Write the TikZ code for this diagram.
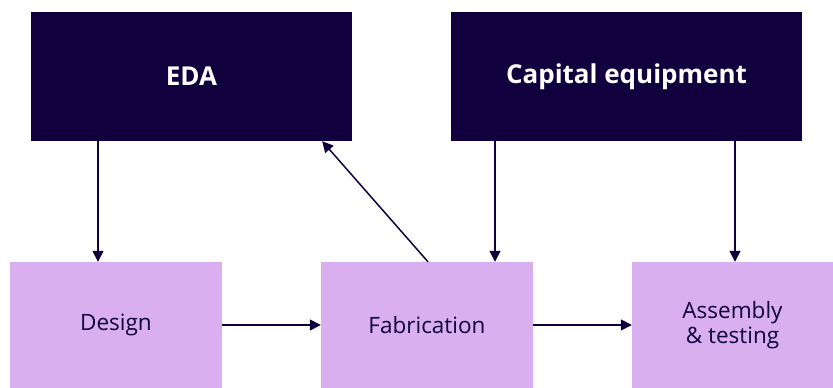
\documentclass[tikz,border=0pt]{standalone}
\usepackage{fontspec}
\setmainfont{Open Sans}
\definecolor{navy}{RGB}{16, 0, 62}
\definecolor{lavender}{RGB}{217, 175, 240}
\usetikzlibrary{shapes, arrows.meta, positioning, calc}

\begin{document}
\begin{tikzpicture}[
  x=1pt, y=1pt,
  sector/.style={rectangle, fill=navy, text=white, minimum height=129pt,
                 inner sep=0pt, align=center, font=\fontsize{26}{30}\selectfont\bfseries},
  stage/.style={rectangle, fill=lavender, text=navy, minimum width=212pt, minimum height=126pt,
                inner sep=0pt, align=center, font=\fontsize{22.5}{25}\selectfont},
  arr/.style={-{Triangle[length=11pt, width=11pt]}, line width=1.5pt, navy}
]
  \useasboundingbox (0,0) rectangle (833,388);
  \node[sector, minimum width=321pt] (eda) at (191.5,311.5) {EDA};
  \node[sector, minimum width=351pt] (capital) at (626.5,311.5) {Capital equipment};
  \node[stage] (design) at (116,63) {Design};
  \node[stage] (fab) at (427,63) {Fabrication};
  \node[stage, minimum width=201pt] (assembly) at (732.5,63) {Assembly\\\& testing};
  \draw[arr] ([xshift=-18pt]design.north |- eda.south) -- ([xshift=-18pt]design.north);
  \draw[arr] ([xshift=1pt]fab.north) -- ([xshift=-30pt]eda.south east);
  \draw[arr] ([xshift=68pt]fab.north |- capital.south) -- ([xshift=68pt]fab.north);
  \draw[arr] ([xshift=2.5pt]assembly.north |- capital.south) -- ([xshift=2.5pt]assembly.north);
  \draw[arr] (design) -- (fab);
  \draw[arr] (fab) -- (assembly);
\end{tikzpicture}
\end{document}
